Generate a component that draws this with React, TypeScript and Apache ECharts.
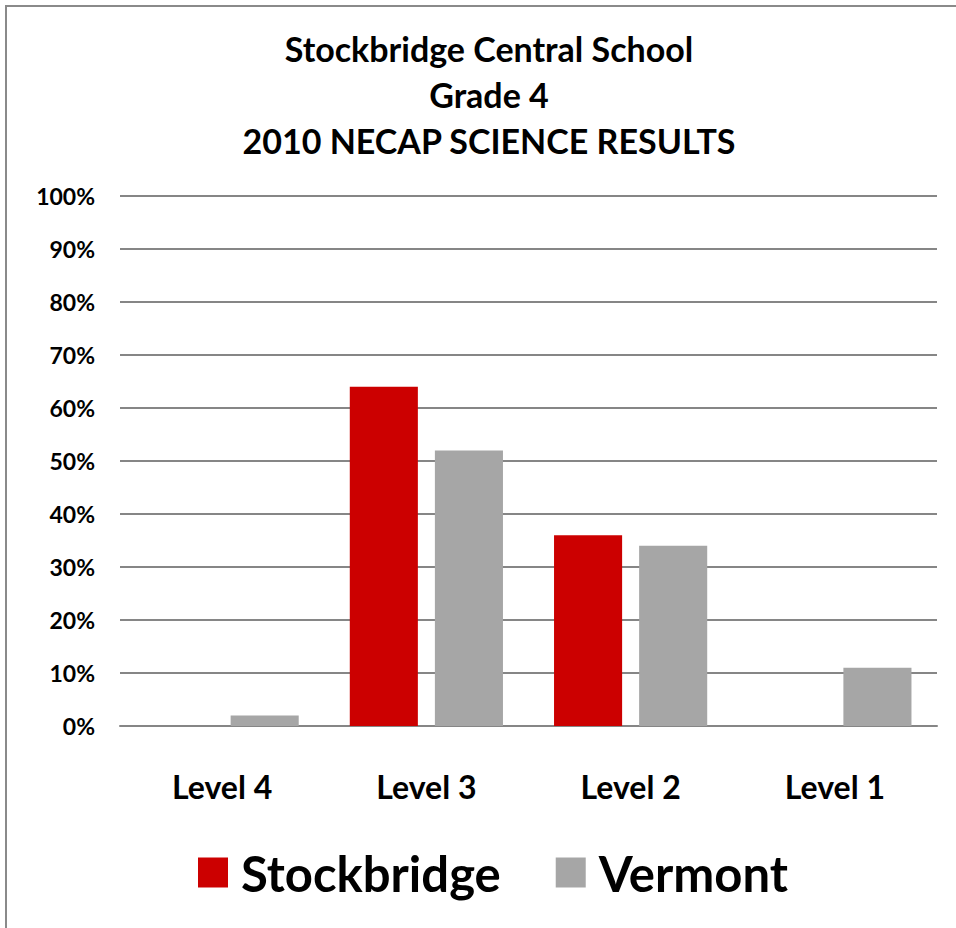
import React, { useEffect, useRef } from "react";
import * as echarts from "echarts";

const categories = ["Level 4", "Level 3", "Level 2", "Level 1"];
const stockbridge = [0, 64, 36, 0];
const vermont = [2, 52, 34, 11];
const titleLines = ["Stockbridge Central School", "Grade 4", "2010 NECAP SCIENCE RESULTS"];

const FONT = "Lato, 'Open Sans', sans-serif";

export default function App() {
  const ref = useRef<HTMLDivElement>(null);
  useEffect(() => {
    if (!ref.current) return;
    const chart = echarts.init(ref.current, undefined, { renderer: "svg" });
    chart.setOption({
      animation: false,
      backgroundColor: "#ffffff",
      title: {
        text: titleLines.join("\n"),
        left: 484,
        top: 20,
        textAlign: "center",
        textStyle: {
          fontFamily: FONT,
          fontWeight: "bold",
          fontSize: 34,
          lineHeight: 46,
          color: "#000",
        },
      },
      graphic: [
        {
          type: "rect",
          shape: { x: 6, y: 6, width: 1000, height: 1000 },
          style: { fill: "none", stroke: "#8a8a8a", lineWidth: 2 },
          silent: true,
        },
      ],
      legend: {
        bottom: 26,
        left: 193,
        itemWidth: 30,
        itemHeight: 30,
        itemGap: 55,
        icon: "rect",
        textStyle: { fontFamily: FONT, fontWeight: "bold", fontSize: 49, color: "#000", padding: [0, 0, 0, 8] },
        data: ["Stockbridge", "Vermont"],
      },
      grid: { left: 120, right: 19, top: 196, bottom: 202, containLabel: false },
      xAxis: {
        type: "category",
        data: categories,
        axisLine: { show: true, lineStyle: { color: "#868686", width: 2 } },
        axisTick: { show: false },
        axisLabel: { fontFamily: FONT, fontWeight: "bold", fontSize: 32, color: "#000", margin: 44 },
      },
      yAxis: {
        type: "value",
        min: 0,
        max: 100,
        interval: 10,
        axisLine: { show: false },
        axisTick: { show: false },
        axisLabel: {
          formatter: "{value}%",
          fontFamily: FONT,
          fontWeight: "bold",
          fontSize: 23,
          color: "#000",
          margin: 25,
        },
        splitLine: { lineStyle: { color: "#868686", width: 2 } },
      },
      series: [
        {
          name: "Stockbridge",
          type: "bar",
          data: stockbridge,
          itemStyle: { color: "#cc0000" },
          barGap: "25%",
          barCategoryGap: "25%",
        },
        {
          name: "Vermont",
          type: "bar",
          data: vermont,
          itemStyle: { color: "#a6a6a6" },
        },
      ],
    });
    return () => chart.dispose();
  }, []);
  return (
    <div
      ref={ref}
      style={{ position: "absolute", left: 0, top: 0, width: 956, height: 928 }}
    />
  );
}
